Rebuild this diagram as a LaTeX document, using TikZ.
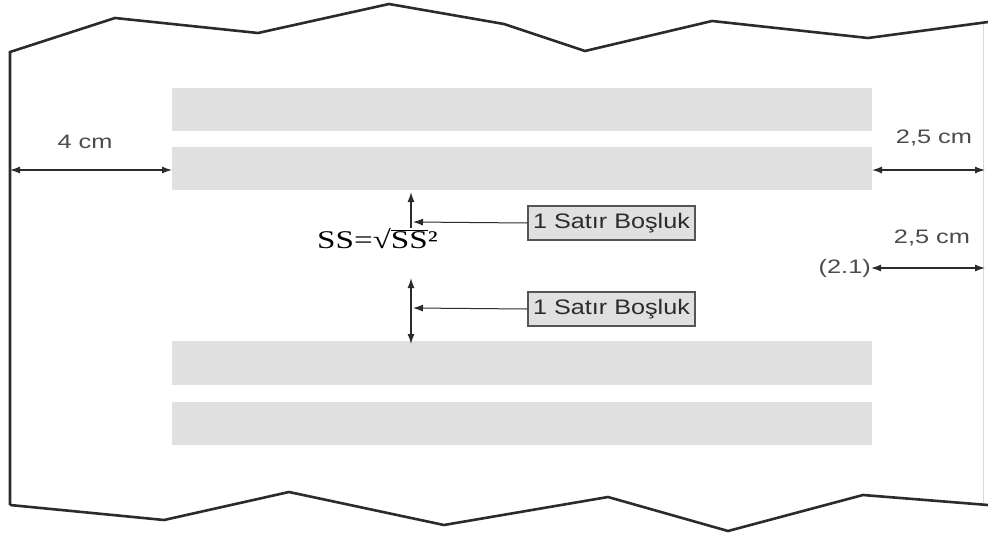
\documentclass[tikz,border=0pt]{standalone}
\usepackage{fontspec}
\setmainfont{Liberation Serif}
\setsansfont{Liberation Sans}
\usetikzlibrary{arrows.meta}
\definecolor{barfill}{HTML}{E0E0E0}
\definecolor{ink}{HTML}{2B2B2B}
\newcommand\stretchx[2][1.3]{\scalebox{#1}[1]{#2}}
\tikzset{
  edge/.style={ink, line width=2.6pt, line join=miter},
  bar/.style={fill=barfill, draw=none},
  dim/.style={ink, line width=1.3pt, {Latex[length=10pt,width=7pt]}-{Latex[length=10pt,width=7pt]}},
  ptr/.style={ink, line width=1pt, -{Latex[length=10pt,width=7pt]}},
  lbl/.style={text=ink!85, font=\sffamily\fontsize{19.5}{22}\selectfont, inner sep=0pt},
  tag/.style={draw=ink!80, fill=barfill, line width=1.3pt, font=\sffamily\fontsize{21}{24}\selectfont,
              text=ink, minimum width=167pt, minimum height=34pt, inner sep=0pt},
}
\begin{document}
\begin{tikzpicture}[x=1pt,y=-1pt]
\useasboundingbox (0,0) rectangle (988,536);
%
\draw [black!15, line width=1pt] (983,22) -- (983,505);
\draw [edge]
     (10,505) -- (10,52) -- (115,18) -- (258,33) -- (389,4) -- (504,24)
  -- (585,51) -- (712,21) -- (868,38) -- (988,22);
\draw [edge]
     (10,505) -- (164,520) -- (289,492) -- (444,525) -- (608,497)
  -- (728,531) -- (863,495) -- (988,505);
%
\fill [bar] (172,88) rectangle (872,131);
\fill [bar] (172,147) rectangle (872,190);
\fill [bar] (172,341) rectangle (872,385);
\fill [bar] (172,402) rectangle (872,445);
%
\coordinate (lm) at (10,170);
\coordinate (lb) at (172,170);
\draw [dim] (lm) -- (lb);
\node (l4) [lbl] at (85,142) {\stretchx{4 cm}};
%
\coordinate (rb) at (872,170);
\coordinate (rm) at (985,170);
\draw [dim] (rb) -- (rm);
\node (r1) [lbl] at (934,137.5) {\stretchx{2,5 cm}};
%
\node (eq) [lbl, anchor=east] at (871,268) {\stretchx{(2.1)}};
\coordinate (rm2) at (985,268);
\draw [dim] (eq.east) -- (rm2);
\node (r2) [lbl] at (932,237.5) {\stretchx{2,5 cm}};
%
\node (b1) [tag] at (611.5,223) {\stretchx[1.2]{1 Satır Boşluk}};
\node (b2) [tag] at (611.5,309) {\stretchx[1.2]{1 Satır Boşluk}};
%
\coordinate (t1) at (411,192);
\coordinate (u1) at (411,228);
\draw [ink, line width=1.3pt, -{Latex[length=10pt,width=7pt]}] (u1) -- (t1);
\coordinate (h1) at (413,222);
\draw [ptr] (b1.west) -- (h1);
%
\coordinate (t2) at (411,278);
\coordinate (u2) at (411,344);
\draw [dim] (u2) -- (t2);
\coordinate (h2) at (413,308);
\draw [ptr] (b2.west) -- (h2);
%
\node (ss) [font=\fontsize{25.5}{30}\selectfont, inner sep=0pt, anchor=base]
  at (377.5,248) {\stretchx{SS=√$\overline{\mbox{SS}}$²}};
\end{tikzpicture}
\end{document}
